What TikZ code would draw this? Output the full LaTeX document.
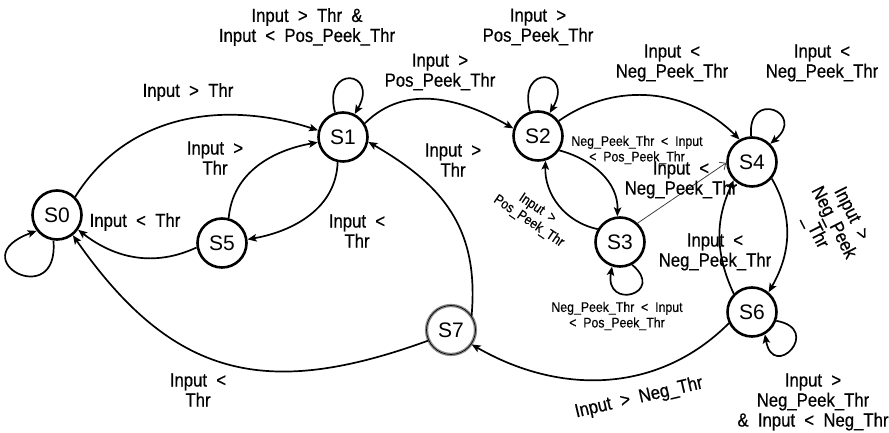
\documentclass[tikz,border=0pt]{standalone}
\usepackage{fontspec}
\setmainfont{Liberation Sans}
\newfontfamily\labfont{Liberation Sans}[FakeStretch=0.88,WordSpace=2.0,FakeBold=0.5]
\usetikzlibrary{arrows.meta}
\begin{document}
\begin{tikzpicture}[x=1pt,y=1pt,
  state/.style={circle,draw,line width=2.6pt,minimum size=49pt,inner sep=0pt,font=\fontsize{21}{24}\selectfont},
  graystate/.style={circle,draw=black!45,double=black,double distance=0.7pt,line width=1.3pt,minimum size=49pt,inner sep=0pt,font=\fontsize{21}{24}\selectfont},
  edge/.style={line width=1.7pt,-{Stealth[length=9pt,width=7.5pt,inset=2pt]}},
  thinedge/.style={line width=0.8pt,draw=black!75,-{Straight Barb[length=5pt,width=9pt]}},
  lab/.style={font=\labfont\fontsize{19}{20}\selectfont,align=center,inner sep=0pt},
  slab/.style={font=\labfont\fontsize{14}{15.5}\selectfont,align=center,inner sep=0pt},
]
\useasboundingbox (0,0) rectangle (889,433);
% states
\node[state] (S0) at (57,218) {S0};
\node[state] (S1) at (343,296) {S1};
\node[state] (S2) at (538,297) {S2};
\node[state] (S3) at (620,191) {S3};
\node[state] (S4) at (752,271) {S4};
\node[state] (S5) at (222,190) {S5};
\node[state] (S6) at (752,121) {S6};
\node[graystate] (S7) at (451,103) {S7};
% edges
\draw[edge] (S0.45) to[out=58,in=162] (S1.165);
\draw[edge] (S5.75) to[out=85,in=190] (S1.192);
\draw[edge] (S1.258) to[out=268,in=10] (S5.8);
\draw[edge] (S5.190) to[out=205,in=322] (S0.325);
\draw[edge] (S0.262) .. controls +(275:72) and +(200:82) .. (S0.218);
\draw[edge] (S7.205) to[out=200,in=305,looseness=1.2] (S0.308);
\draw[edge] (S7.35) to[out=85,in=330,looseness=1.1] (S1.349);
\draw[edge] (S1.32) to[out=45,in=150] (S2.163);
\draw[edge] (S1.108) .. controls +(105:50) and +(60:50) .. (S1.63);
\draw[edge] (S2.108) .. controls +(105:50) and +(60:50) .. (S2.63);
\draw[edge] (S4.92) .. controls +(95:48) and +(40:48) .. (S4.45);
\draw[edge] (S2.36) to[out=35,in=135] (S4.119);
\draw[edge] (S2.-34) to[out=-15,in=88] (S3.96);
\draw[edge] (S3.150) to[out=168,in=268] (S2.287);
\draw[thinedge] (S3.47) -- (S4.182);
\draw[edge] (S3.-62) .. controls +(-40:45) and +(-100:45) .. (S3.-108);
\draw[edge] (S4.-40) to[out=-60,in=60] (S6.50);
\draw[edge] (S6.135) to[out=115,in=245] (S4.225);
\draw[edge] (S6.-20) .. controls +(-10:48) and +(-80:48) .. (S6.-60);
\draw[edge] (S6.206) to[out=225,in=330] (S7.325);
% labels
\node[lab] (l01) at (188,341) {Input > Thr};
\node[lab] (l51) at (215,275) {Input >\\Thr};
\node[lab] (l15) at (357,202) {Input <\\Thr};
\node[lab] (l50) at (135,211) {Input < Thr};
\node[lab] (l70) at (198,43) {Input <\\Thr};
\node[lab] (l71) at (453,273) {Input >\\Thr};
\node[lab] (l12) at (440,361) {Input >\\Pos\_Peek\_Thr};
\node[lab] (l11) at (307,406) {Input > Thr \&\\Input < Pos\_Peek\_Thr};
\node[lab] (l22) at (538,406) {Input >\\Pos\_Peek\_Thr};
\node[lab] (l24) at (672,370) {Input <\\Neg\_Peek\_Thr};
\node[lab] (l44) at (822,370) {Input <\\Neg\_Peek\_Thr};
\node[slab] (l23) at (637,283) {Neg\_Peek\_Thr < Input\\< Pos\_Peek\_Thr};
\node[slab,rotate=-34] (l32) at (533,218) {Input >\\Pos\_Peek\_Thr};
\node[lab] (l34) at (681,253) {Input <\\Neg\_Peek\_Thr};
\node[slab] (l33) at (617,117) {Neg\_Peek\_Thr < Input\\< Pos\_Peek\_Thr};
\node[lab,rotate=-63] (l46) at (833,210) {Input >\\Neg\_Peek\\\_Thr};
\node[lab] (l64) at (715,181) {Input <\\Neg\_Peek\_Thr};
\node[lab] (l66) at (813,31) {Input >\\Neg\_Peek\_Thr\\\& Input < Neg\_Thr};
\node[lab,rotate=13] (l67) at (639,35) {Input > Neg\_Thr};
\end{tikzpicture}
\end{document}
